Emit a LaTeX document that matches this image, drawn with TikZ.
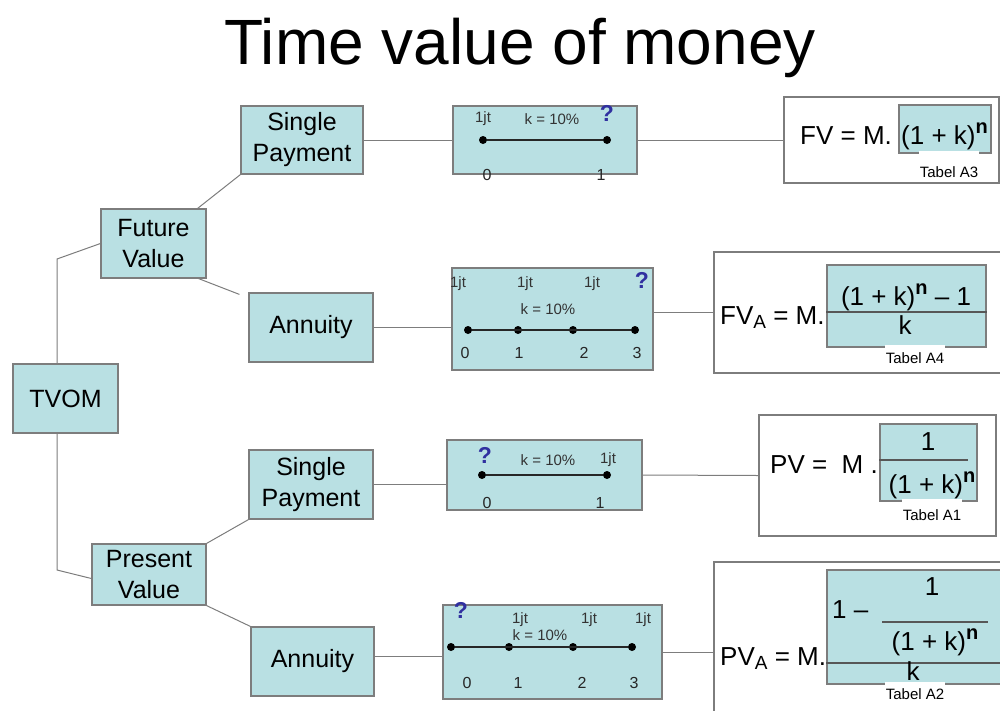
\documentclass[tikz,border=0pt]{standalone}
\usepackage{fontspec}
\setmainfont{Liberation Sans}
\usepackage{tikz}
\usetikzlibrary{positioning, calc}
\definecolor{tvcyan}{RGB}{185, 224, 227}
\definecolor{tvgray}{RGB}{125, 125, 125}
\definecolor{tvblue}{RGB}{48, 48, 160}
\newcommand{\powN}{\raisebox{11pt}{\fontsize{20}{20}\selectfont\bfseries n}}
\newcommand{\subA}{\raisebox{-4pt}{\fontsize{19}{19}\selectfont A}}
\tikzset{
    tabel/.style={fill=white, inner sep=1pt, text height=#1, text depth=3pt, anchor=base, font=\fontsize{15}{15}\selectfont}
}

\begin{document}
\begin{tikzpicture}[
    x=1pt, y=-1pt,
    base/.style={draw=tvgray, line width=1.2pt, fill=tvcyan, inner sep=0pt, align=center, font=\fontsize{25}{31}\selectfont},
    tline/.style={draw=tvgray, line width=1.2pt, fill=tvcyan, inner sep=0pt},
    fbox/.style={draw=tvgray, line width=1.2pt, fill=white, inner sep=0pt},
    link/.style={tvgray, line width=1pt},
    tlaxis/.style={black!85, line width=1.2pt},
    dot/.style={circle, fill=black, inner sep=0pt, minimum size=8pt},
    jtlabel/.style={inner sep=0pt, text=black!80, font=\fontsize{15}{15}\selectfont},
    tnum/.style={inner sep=0pt, text=black!85, font=\fontsize{16}{16}\selectfont},
    quest/.style={inner sep=0pt, text=tvblue, font=\fontsize{23}{23}\selectfont\bfseries},
    ftext/.style={inner sep=0pt, font=\fontsize{26}{30}\selectfont}
]
    \useasboundingbox (0,0) rectangle (1000,710);

    % --- HEADER ---
    \node[inner sep=0pt, anchor=base, font=\fontsize{64}{70}\selectfont] (title) at (520,64) {Time value of money};

    % --- TREE ---
    \node[base, minimum width=105pt, minimum height=69pt] (tvom) at (65.5,398.5) {TVOM};
    \node[base, minimum width=105pt, minimum height=69pt] (fv) at (153.5,243.5) {Future\\Value};
    \node[base, minimum width=114pt, minimum height=61pt] (pv) at (149,574.5) {Present\\Value};
    \node[base, minimum width=122pt, minimum height=68pt] (fvsingle) at (302,140) {Single\\Payment};
    \node[base, minimum width=124pt, minimum height=69pt] (fvannuity) at (311,327.5) {Annuity};
    \node[base, minimum width=124pt, minimum height=69pt] (pvsingle) at (311,484.5) {Single\\Payment};
    \node[base, minimum width=123pt, minimum height=69pt] (pvannuity) at (312.5,661.5) {Annuity};

    \coordinate (tvup) at (57,259);
    \coordinate (tvdown) at (57,570);
    \draw[link] (tvom.north -| tvup) -- (tvup) -- (fv.west);
    \draw[link] (tvom.south -| tvdown) -- (tvdown) -- ([yshift=-4pt]pv.west);
    \draw[link] ([xshift=-9pt]fv.north east) -- (fvsingle.south west);
    \draw[link] ([xshift=-8pt]fv.south east) -- ([xshift=-9pt, yshift=-2pt]fvannuity.north west);
    \draw[link] (pv.north east) -- (pvsingle.south west);
    \draw[link] (pv.south east) -- (pvannuity.north west);

    % --- TIME LINES ---
    \node[tline, minimum width=184pt, minimum height=68pt] (tlfvs) at (545,140) {};
    \node[tline, minimum width=201pt, minimum height=102pt] (tlfva) at (552.5,319) {};
    \node[tline, minimum width=195pt, minimum height=70pt] (tlpvs) at (544.5,475) {};
    \node[tline, minimum width=219pt, minimum height=94pt] (tlpva) at (552.5,652) {};

    % future value, single payment
    \node[dot] (fs0) at (483,140) {};
    \node[dot] (fs1) at (607,140) {};
    \draw[tlaxis] (fs0) -- (fs1);
    \node[jtlabel] (fsjt) at (483,119) {1jt};
    \node[jtlabel] (fsk) at (552,119) {k = 10\%};
    \node[quest] (fsq) at (607,113) {?};
    \node[tnum] (fsn0) at (487,175) {0};
    \node[tnum] (fsn1) at (601,175) {1};

    % future value, annuity
    \foreach \x [count=\i from 0] in {468,518,573,635}
        \node[dot] (fa\i) at (\x,330) {};
    \draw[tlaxis] (fa0) -- (fa3);
    \foreach \x [count=\i] in {458,525,592}
        \node[jtlabel] (fajt\i) at (\x,284) {1jt};
    \node[quest] (faq) at (642,280) {?};
    \node[jtlabel] (fak) at (548,309) {k = 10\%};
    \foreach \x [count=\i from 0] in {465,519,584,637}
        \node[tnum] (fan\i) at (\x,353) {\i};

    % present value, single payment
    \node[dot] (ps0) at (482,475) {};
    \node[dot] (ps1) at (607,475) {};
    \draw[tlaxis] (ps0) -- (ps1);
    \node[quest] (psq) at (485,455) {?};
    \node[jtlabel] (psk) at (548,460) {k = 10\%};
    \node[jtlabel] (psjt) at (608,460) {1jt};
    \node[tnum] (psn0) at (487,503) {0};
    \node[tnum] (psn1) at (600,503) {1};

    % present value, annuity
    \foreach \x [count=\i from 0] in {451,509,573,632}
        \node[dot] (pa\i) at (\x,647) {};
    \draw[tlaxis] (pa0) -- (pa3);
    \node[quest] (paq) at (461,610) {?};
    \foreach \x [count=\i] in {520,589,643}
        \node[jtlabel] (pajt\i) at (\x,620) {1jt};
    \node[jtlabel] (pak) at (540,635) {k = 10\%};
    \foreach \x [count=\i from 0] in {467,518,582,634}
        \node[tnum] (pan\i) at (\x,683) {\i};

    \draw[link] (fvsingle.east) -- (tlfvs.west);
    \draw[link] (fvannuity.east) -- (fvannuity.east -| tlfva.west);
    \draw[link] (pvsingle.east) -- (pvsingle.east -| tlpvs.west);
    \coordinate (tlpvain) at ([yshift=-4pt]tlpva.west);
    \draw[link] (pvannuity.east |- tlpvain) -- (tlpvain);

    % --- FORMULAS ---
    % FV
    \node[fbox, minimum width=215pt, minimum height=86pt] (fvsf) at (891.5,140) {};
    \node[tline, minimum width=92pt, minimum height=48pt] (fvst) at (945,129) {};
    \node[ftext, anchor=base west] (fvsl) at (800,144) {FV = M.};
    \node[ftext, anchor=base west] (fvsr) at (901,144) {(1 + k)\powN};
    \node[tabel=25pt] (fvsa) at (949,177) {Tabel A3};

    % FV annuity
    \node[fbox, minimum width=292pt, minimum height=121pt] (fvaf) at (860,312.5) {};
    \node[tline, minimum width=159pt, minimum height=82pt] (fvat) at (906.5,306) {};
    \draw[tlaxis, tvgray!70!black] (fvat.west |- 0,312) -- (fvat.east |- 0,312);
    \node[ftext, anchor=base west] (fval) at (720,324) {FV\subA{} = M.};
    \node[ftext, anchor=base] (fvaup) at (906,305) {(1 + k)\powN{} – 1};
    \node[ftext, anchor=base] (fvadn) at (905,334) {k};
    \node[tabel=17pt] (fvaa) at (915,363) {Tabel A4};

    % PV
    \node[fbox, minimum width=237pt, minimum height=121pt] (pvsf) at (877.5,475.5) {};
    \node[tline, minimum width=97pt, minimum height=77pt] (pvst) at (928.5,462.5) {};
    \draw[tlaxis, tvgray!70!black] (pvst.west |- 0,460) -- (968,460);
    \node[ftext, anchor=base west] (pvsl) at (770,473) {PV = \ M .};
    \node[ftext, anchor=base] (pvsup) at (928,450) {1};
    \node[ftext, anchor=base] (pvsdn) at (932,493) {(1 + k)\powN};
    \node[tabel=20pt] (pvsa) at (932,520) {Tabel A1};

    % PV annuity
    \node[fbox, minimum width=292pt, minimum height=158pt] (pvaf) at (860,641) {};
    \node[tline, minimum width=179pt, minimum height=114pt] (pvat) at (916.5,627) {};
    \draw[tlaxis, tvgray!70!black] (pvat.west |- 0,663) -- (pvat.east |- 0,663);
    \draw[tlaxis, tvgray!70!black] (882,622) -- (988,622);
    \node[ftext, anchor=base west] (pval) at (720,665) {PV\subA{} = M.};
    \node[ftext, anchor=base west] (pvaone) at (832,618) {1 –};
    \node[ftext, anchor=base] (pvaup) at (932,595) {1};
    \node[ftext, anchor=base] (pvamid) at (935,650) {(1 + k)\powN};
    \node[ftext, anchor=base] (pvadn) at (913,680) {k};
    \node[tabel=16pt] (pvaa) at (915,699) {Tabel A2};

    \draw[link] (tlfvs.east) -- (fvsf.west);
    \draw[link] (tlfva.east |- fvaf.west) -- (fvaf.west);
    \draw[link] (tlpvs.east) -- (pvsf.west);
    \draw[link] (tlpva.east) -- (tlpva.east -| pvaf.west);

\end{tikzpicture}
\end{document}
